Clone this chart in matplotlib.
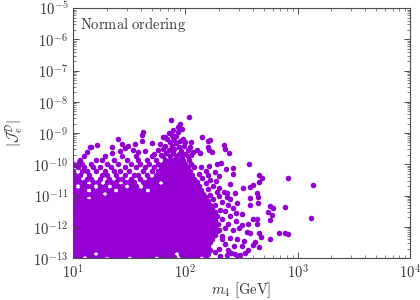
import matplotlib
matplotlib.use("Agg")
import matplotlib.pyplot as plt
from matplotlib.ticker import LogLocator, FuncFormatter, NullFormatter
import numpy as np

plt.rcParams['mathtext.fontset'] = 'cm'
plt.rcParams['font.family'] = ['DejaVu Serif']

# log10(m4 / GeV) and log10|J_e^D|
# scattered points above / right of the dense cloud
top_logm = [1.87, 2.03, 1.93, 1.89, 1.93, 1.62, 1.61, 1.97, 1.95, 1.89, 1.80, 1.82,
            1.40, 1.21, 1.16, 1.35, 1.44, 1.49, 1.55, 1.61, 1.70, 1.77, 2.15, 2.22,
            2.20, 2.34, 2.35, 2.39, 2.20, 2.21, 2.10, 2.13, 1.12, 1.35, 1.42, 1.46,
            1.53, 1.58, 1.64, 1.76, 1.05, 1.02, 1.15, 2.24,
            1.85, 1.88, 1.92, 1.84, 1.90, 1.95, 1.98, 1.86, 1.92, 2.00, 2.05, 1.82,
            1.88, 1.94, 1.99, 2.04, 1.80, 1.85, 1.90, 1.96, 2.02, 2.07, 1.83, 1.89,
            1.94, 2.00, 2.05, 1.78, 1.72]
top_logj = [-8.58, -8.49, -8.81, -8.90, -8.97, -8.97, -9.06, -8.87, -8.70, -9.13, -9.13, -9.13,
            -9.18, -9.38, -9.44, -9.46, -9.35, -9.42, -9.36, -9.26, -9.32, -9.36, -9.14, -9.22,
            -9.26, -9.38, -9.52, -9.64, -9.45, -9.54, -9.54, -9.64, -9.60, -9.64, -9.58, -9.48,
            -9.54, -9.61, -9.58, -9.54, -9.93, -10.02, -9.46, -9.60,
            -9.00, -9.05, -9.10, -9.20, -9.22, -9.25, -9.20, -9.30, -9.33, -9.30, -9.30, -9.42,
            -9.40, -9.45, -9.42, -9.45, -9.50, -9.55, -9.52, -9.56, -9.55, -9.60, -9.65, -9.63,
            -9.66, -9.68, -9.70, -9.70, -9.68]

right_logm = [2.57, 2.32, 2.28, 2.21, 2.42, 2.36, 2.42, 2.26, 2.30, 2.66, 2.68, 2.91,
              2.66, 3.14, 2.40, 2.60, 2.58, 2.51, 2.34, 2.37, 2.44, 2.64, 2.65, 2.37,
              2.40, 2.58, 2.46, 2.58, 2.65, 2.75, 2.78, 2.89, 2.74, 2.77, 2.75, 3.12,
              2.60, 2.64, 2.64, 2.56, 2.55, 2.58, 2.66, 2.83, 2.89, 2.91, 2.75, 2.67,
              2.62, 2.66, 2.60, 2.56, 2.53, 2.47, 2.41, 2.44, 2.37, 2.31, 2.49,
              2.33, 2.38, 2.42, 2.35, 2.45, 2.40, 2.50, 2.33, 2.45, 2.38, 2.50, 2.35,
              2.42, 2.48, 2.33, 2.40, 2.46, 2.52, 2.35, 2.43, 2.50, 2.30, 2.38, 2.26,
              2.33, 2.30, 2.31, 2.29,
              2.14, 2.18, 2.12, 2.20, 2.15, 2.22, 2.27, 2.18, 2.25, 2.30, 2.20, 2.28,
              2.22, 2.30, 2.25]
right_logj = [-9.99, -9.96, -10.00, -10.05, -10.12, -10.15, -10.31, -10.25, -10.38, -10.34, -10.44, -10.44,
              -10.56, -10.66, -10.63, -10.66, -10.73, -10.76, -10.89, -10.92, -10.92, -10.92, -11.05, -11.05,
              -11.10, -11.08, -11.24, -11.30, -11.24, -11.34, -11.40, -11.37, -11.53, -11.62, -11.78, -11.72,
              -11.75, -11.75, -11.91, -11.91, -12.17, -12.20, -12.20, -12.20, -12.20, -12.22, -12.39, -12.33,
              -12.50, -12.65, -12.58, -12.74, -12.84, -12.97, -12.84, -12.86, -12.90, -12.92, -12.90,
              -11.20, -11.30, -11.40, -11.50, -11.55, -11.65, -11.60, -11.75, -11.80, -11.90, -11.95, -12.05,
              -12.10, -12.05, -12.30, -12.35, -12.40, -12.45, -12.55, -12.60, -12.62, -12.70, -12.75, -12.80,
              -12.40, -12.10, -11.45, -11.90,
              -10.10, -10.20, -10.30, -10.35, -10.45, -10.50, -10.55, -10.60, -10.70, -10.75, -10.80, -10.90,
              -10.98, -11.00, -11.10]

# upper edge of the cloud, one row per log|J| level
edge_logj = [-9.74, -9.86, -9.98, -10.10, -10.22, -10.34, -10.46, -10.58]
edge_logm = [
    [1.10, 1.28, 1.44, 1.56, 1.70, 1.80, 1.86, 1.92, 1.97, 2.02],
    [1.06, 1.20, 1.26, 1.36, 1.48, 1.58, 1.66, 1.74, 1.82, 1.86, 1.90, 1.94, 1.98, 2.03],
    [1.00, 1.08, 1.16, 1.30, 1.40, 1.52, 1.60, 1.68, 1.76, 1.80, 1.84, 1.88, 1.92, 1.96, 2.00, 2.05],
    [1.04, 1.10, 1.18, 1.24, 1.34, 1.46, 1.56, 1.64, 1.72, 1.78, 1.82, 1.86, 1.90, 1.94, 1.98, 2.02, 2.08],
    [1.00, 1.08, 1.12, 1.20, 1.28, 1.36, 1.42, 1.50, 1.62, 1.70, 1.76, 1.80, 1.84, 1.88, 1.92, 1.96, 2.00, 2.04],
    [1.02, 1.06, 1.14, 1.26, 1.30, 1.38, 1.46, 1.54, 1.58, 1.66, 1.74, 1.78, 1.82, 1.86, 1.90, 1.94, 1.98, 2.02, 2.06],
    [1.00, 1.04, 1.12, 1.16, 1.24, 1.32, 1.40, 1.44, 1.52, 1.60, 1.68, 1.72, 1.76, 1.80, 1.84, 1.88, 1.92, 1.96,
     2.00, 2.04, 2.08],
    [1.02, 1.06, 1.10, 1.18, 1.22, 1.30, 1.34, 1.38, 1.46, 1.50, 1.54, 1.62, 1.66, 1.70, 1.74, 1.82, 1.86, 1.90,
     1.94, 1.98, 2.02, 2.06, 2.10],
]

# dense core of the cloud
core_logj = [-10.70, -10.82, -10.94, -11.06, -11.18, -11.30, -11.42, -11.54, -11.66, -11.78,
             -11.90, -12.02, -12.14, -12.26, -12.38, -12.50, -12.62, -12.74, -12.86, -12.98]
core_logm = [
    [1.00, 1.08, 1.12, 1.16, 1.24, 1.28, 1.36, 1.40, 1.44, 1.52, 1.56, 1.64, 1.68, 1.72, 1.76, 1.80,
     1.84, 1.88, 1.92, 1.96, 2.00, 2.04, 2.08, 2.12],
    [1.02, 1.06, 1.10, 1.18, 1.22, 1.26, 1.30, 1.34, 1.42, 1.46, 1.50, 1.54, 1.58, 1.62, 1.70, 1.74,
     1.78, 1.82, 1.86, 1.90, 1.94, 1.98, 2.02, 2.06, 2.10, 2.14],
    [1.00, 1.04, 1.08, 1.12, 1.16, 1.20, 1.24, 1.32, 1.36, 1.40, 1.44, 1.48, 1.52, 1.56, 1.60, 1.64,
     1.68, 1.72, 1.76, 1.80, 1.84, 1.88, 1.92, 1.96, 2.00, 2.04, 2.08, 2.12, 2.16],
    [1.02, 1.06, 1.10, 1.18, 1.22, 1.26, 1.30, 1.34, 1.38, 1.42, 1.46, 1.50, 1.54, 1.58, 1.62, 1.66,
     1.70, 1.74, 1.78, 1.82, 1.86, 1.90, 1.94, 1.98, 2.02, 2.06, 2.10, 2.14, 2.18],
    [1.00, 1.04, 1.08, 1.12, 1.16, 1.20, 1.24, 1.28, 1.32, 1.36, 1.40, 1.44, 1.48, 1.52, 1.56, 1.60,
     1.64, 1.68, 1.72, 1.76, 1.80, 1.84, 1.88, 1.92, 1.96, 2.00, 2.04, 2.08, 2.12, 2.16, 2.20],
    [1.02, 1.06, 1.10, 1.14, 1.18, 1.22, 1.26, 1.30, 1.34, 1.38, 1.42, 1.46, 1.50, 1.54, 1.58, 1.62,
     1.66, 1.70, 1.74, 1.78, 1.82, 1.86, 1.90, 1.94, 1.98, 2.02, 2.06, 2.10, 2.14, 2.18, 2.22, 2.26],
    [1.00, 1.04, 1.08, 1.12, 1.16, 1.20, 1.24, 1.28, 1.32, 1.36, 1.40, 1.44, 1.48, 1.52, 1.56, 1.60,
     1.64, 1.68, 1.72, 1.76, 1.80, 1.84, 1.88, 1.92, 1.96, 2.00, 2.04, 2.08, 2.12, 2.16, 2.20, 2.24],
    [1.02, 1.06, 1.10, 1.14, 1.18, 1.22, 1.26, 1.30, 1.34, 1.38, 1.42, 1.46, 1.50, 1.54, 1.58, 1.62,
     1.66, 1.70, 1.74, 1.78, 1.82, 1.86, 1.90, 1.94, 1.98, 2.02, 2.06, 2.10, 2.14, 2.18, 2.22, 2.26],
    [1.00, 1.04, 1.08, 1.12, 1.16, 1.20, 1.24, 1.28, 1.32, 1.36, 1.40, 1.44, 1.48, 1.52, 1.56, 1.60,
     1.64, 1.68, 1.72, 1.76, 1.80, 1.84, 1.88, 1.92, 1.96, 2.00, 2.04, 2.08, 2.12, 2.16, 2.20, 2.24, 2.28],
    [1.02, 1.06, 1.10, 1.14, 1.18, 1.22, 1.26, 1.30, 1.34, 1.38, 1.42, 1.46, 1.50, 1.54, 1.58, 1.62,
     1.66, 1.70, 1.74, 1.78, 1.82, 1.86, 1.90, 1.94, 1.98, 2.02, 2.06, 2.10, 2.14, 2.18, 2.22, 2.26],
    [1.00, 1.04, 1.08, 1.12, 1.16, 1.20, 1.24, 1.28, 1.32, 1.36, 1.40, 1.44, 1.48, 1.52, 1.56, 1.60,
     1.64, 1.68, 1.72, 1.76, 1.80, 1.84, 1.88, 1.92, 1.96, 2.00, 2.04, 2.08, 2.12, 2.16, 2.20, 2.24, 2.28],
    [1.02, 1.06, 1.10, 1.14, 1.18, 1.22, 1.26, 1.30, 1.34, 1.38, 1.42, 1.46, 1.50, 1.54, 1.58, 1.62,
     1.66, 1.70, 1.74, 1.78, 1.82, 1.86, 1.90, 1.94, 1.98, 2.02, 2.06, 2.10, 2.14, 2.18, 2.22, 2.26],
    [1.00, 1.04, 1.08, 1.12, 1.16, 1.20, 1.24, 1.28, 1.32, 1.36, 1.40, 1.44, 1.48, 1.52, 1.56, 1.60,
     1.64, 1.68, 1.72, 1.76, 1.80, 1.84, 1.88, 1.92, 1.96, 2.00, 2.04, 2.08, 2.12, 2.16, 2.20, 2.24, 2.28],
    [1.02, 1.06, 1.10, 1.14, 1.18, 1.22, 1.26, 1.30, 1.34, 1.38, 1.42, 1.46, 1.50, 1.54, 1.58, 1.62,
     1.66, 1.70, 1.74, 1.78, 1.82, 1.86, 1.90, 1.94, 1.98, 2.02, 2.06, 2.10, 2.14, 2.18, 2.22, 2.26],
    [1.00, 1.04, 1.08, 1.12, 1.16, 1.20, 1.24, 1.28, 1.32, 1.36, 1.40, 1.44, 1.48, 1.52, 1.56, 1.60,
     1.64, 1.68, 1.72, 1.76, 1.80, 1.84, 1.88, 1.92, 1.96, 2.00, 2.04, 2.08, 2.12, 2.16, 2.20, 2.24],
    [1.02, 1.06, 1.10, 1.14, 1.18, 1.22, 1.26, 1.30, 1.34, 1.38, 1.42, 1.46, 1.50, 1.54, 1.58, 1.62,
     1.66, 1.70, 1.74, 1.78, 1.82, 1.86, 1.90, 1.94, 1.98, 2.02, 2.06, 2.10, 2.14, 2.18, 2.22],
    [1.00, 1.04, 1.08, 1.12, 1.16, 1.20, 1.24, 1.28, 1.32, 1.36, 1.40, 1.44, 1.48, 1.52, 1.56, 1.60,
     1.64, 1.68, 1.72, 1.76, 1.80, 1.84, 1.88, 1.92, 1.96, 2.00, 2.04, 2.08, 2.12, 2.16, 2.20],
    [1.02, 1.06, 1.10, 1.14, 1.18, 1.22, 1.26, 1.30, 1.34, 1.38, 1.42, 1.46, 1.50, 1.54, 1.58, 1.62,
     1.66, 1.70, 1.74, 1.78, 1.82, 1.86, 1.90, 1.94, 1.98, 2.02, 2.06, 2.10, 2.14, 2.18, 2.22],
    [1.00, 1.04, 1.08, 1.12, 1.16, 1.24, 1.28, 1.32, 1.36, 1.40, 1.44, 1.48, 1.52, 1.56, 1.60,
     1.64, 1.68, 1.72, 1.76, 1.80, 1.84, 1.88, 1.96, 2.00, 2.04, 2.08, 2.12, 2.16, 2.20],
    [1.02, 1.06, 1.14, 1.18, 1.22, 1.26, 1.34, 1.38, 1.42, 1.46, 1.54, 1.58, 1.62,
     1.66, 1.70, 1.78, 1.82, 1.86, 1.90, 1.98, 2.02, 2.06, 2.10, 2.18],
]

logm = list(top_logm) + list(right_logm)
logj = list(top_logj) + list(right_logj)
for lj, row in zip(edge_logj + core_logj, edge_logm + core_logm):
    logm += row
    logj += [lj] * len(row)

m4 = 10 ** np.array(logm)
jed = 10 ** np.array(logj)

purple = '#9400D3'
axcol = '#4a4a4a'

fig = plt.figure(figsize=(4.2, 3.0), dpi=100)
ax = fig.add_axes([0.174, 0.14, 0.802, 0.833])
ax.scatter(m4, jed, s=16, c=purple, marker='o', linewidths=0)

ax.set_xscale('log')
ax.set_yscale('log')
ax.set_xlim(10, 1e4)
ax.set_ylim(1e-13, 1e-5)

fmt = FuncFormatter(lambda v, p: r'$10^{%d}$' % round(np.log10(v)))
ax.xaxis.set_major_locator(LogLocator(base=10, numticks=10))
ax.yaxis.set_major_locator(LogLocator(base=10, numticks=12))
ax.xaxis.set_minor_locator(LogLocator(base=10, subs=np.arange(2, 10), numticks=20))
ax.yaxis.set_minor_locator(LogLocator(base=10, subs=np.arange(2, 10), numticks=20))
ax.xaxis.set_major_formatter(fmt)
ax.yaxis.set_major_formatter(fmt)
ax.xaxis.set_minor_formatter(NullFormatter())
ax.yaxis.set_minor_formatter(NullFormatter())

ax.tick_params(which='both', direction='in', top=True, right=True, color=axcol,
               labelcolor='#333333', labelsize=10.5)
ax.tick_params(which='major', length=4, width=0.7)
ax.tick_params(which='minor', length=2, width=0.5)
for s in ax.spines.values():
    s.set_color(axcol)
    s.set_linewidth(0.8)

ax.set_xlabel(r'$m_4\ [\mathrm{GeV}]$', fontsize=10.5, color='#333333', labelpad=0)
ax.set_ylabel(r'$|\mathcal{J}_e^{\mathcal{D}}|$', fontsize=10.5, color='#333333', labelpad=6)
ax.text(0.022, 0.972, r'$\mathrm{Normal\ ordering}$', transform=ax.transAxes,
        ha='left', va='top', fontsize=10.5, color='#333333')

fig.savefig('out.png', dpi=100)
